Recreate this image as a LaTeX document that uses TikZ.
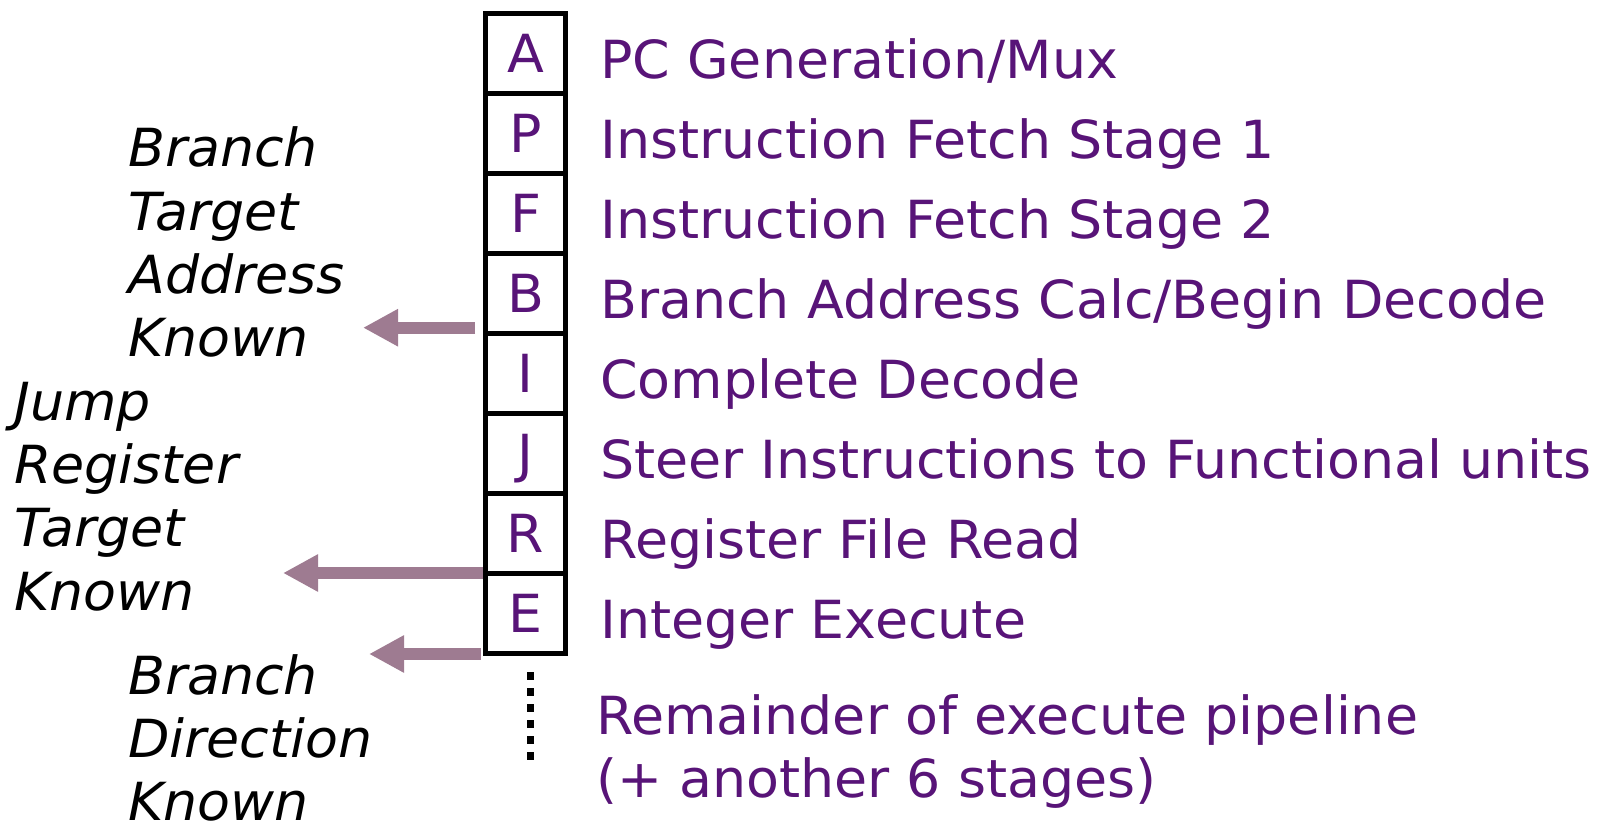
\documentclass[tikz,border=0pt]{standalone}
\usepackage{fontspec}
\setmainfont{DejaVu Sans}[FakeStretch=1.025]
\usetikzlibrary{arrows.meta}
\definecolor{stagepurple}{RGB}{88,20,120}
\definecolor{arrowmauve}{RGB}{158,123,145}
\begin{document}
\begin{tikzpicture}[x=1pt,y=-1pt,
  bigfont/.style={font=\fontsize{52.5}{62}\selectfont},
  cell/.style={draw=black, line width=5pt, minimum width=80pt, minimum height=80pt,
     inner sep=0pt, outer sep=0pt, text height=38pt, text depth=0pt,
     text=stagepurple, bigfont},
  stagelabel/.style={anchor=base west, text=stagepurple, bigfont, inner sep=0pt},
  sidenote/.style={anchor=base west, align=left, inner sep=0pt,
     font=\fontsize{52.5}{63.3}\selectfont\itshape},
  knownarrow/.style={draw=arrowmauve, line width=12pt,
     -{Triangle[width=35pt,length=35pt]}},
  dotline/.style={draw=black, line width=7.5pt, dash pattern=on 7.5pt off 8.5pt}]
\useasboundingbox (0,0) rectangle (1602,824);
% pipeline cells
\foreach \l/\n [count=\i from 0] in {A/cA,P/cP,F/cF,B/cB,I/cI,J/cJ,R/cR,E/cE}{
  \node[cell] (\n) at (525.5,{53.5+80*\i}) {\l};
}
% stage descriptions
\node[stagelabel] (lA) at (600,78.3) {PC Generation/Mux};
\node[stagelabel] (lP) at (600,158.3) {Instruction Fetch Stage 1};
\node[stagelabel] (lF) at (600,238.3) {Instruction Fetch Stage 2};
\node[stagelabel] (lB) at (600,318.3) {Branch Address Calc/Begin Decode};
\node[stagelabel] (lI) at (600,398.3) {Complete Decode};
\node[stagelabel] (lJ) at (600,478.3) {Steer Instructions to Functional units};
\node[stagelabel] (lR) at (600,558.3) {Register File Read};
\node[stagelabel] (lE) at (600,638.3) {Integer Execute};
\node[stagelabel, align=left, font=\fontsize{52.5}{62.7}\selectfont] (lrest) at (596,797)
  {Remainder of execute pipeline\\(+ another 6 stages)};
% dotted continuation
\coordinate (dtop) at (530.5,672);
\coordinate (dbot) at (530.5,760);
\draw[dotline] (dtop) -- (dbot);
% side notes (anchored at the baseline of the last line)
\node[sidenote] (nBTA) at (128,356.6) {Branch\\Target\\Address\\Known};
\node[sidenote] (nJR) at (14,610) {Jump\\Register\\Target\\Known};
\node[sidenote] (nBD) at (128,820.6) {Branch\\Direction\\Known};
% arrows
\coordinate (s1) at (475,327.7);
\coordinate (t1) at (363,327.7);
\coordinate (s2) at (483,573);
\coordinate (t2) at (283,573);
\coordinate (s3) at (481,654);
\coordinate (t3) at (369,654);
\draw[knownarrow] (s1) -- (t1);
\draw[knownarrow] (s2) -- (t2);
\draw[knownarrow] (s3) -- (t3);
\end{tikzpicture}
\end{document}
